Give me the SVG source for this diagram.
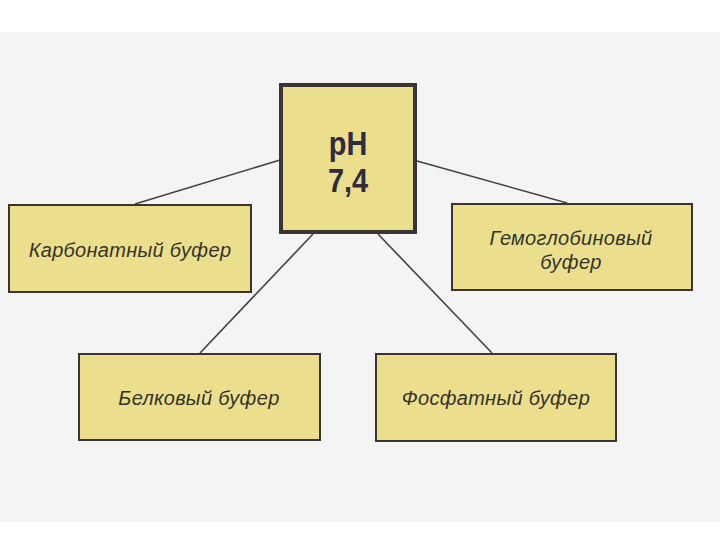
<svg xmlns="http://www.w3.org/2000/svg" width="720" height="540" viewBox="0 0 720 540">
<style>
.box{fill:#ebdf8e;stroke:#3a3530;stroke-width:2}
.main{fill:#ebdf8e;stroke:#3a3530;stroke-width:4}
.lbl{font-family:"Liberation Sans",Arial,sans-serif;font-style:italic;font-size:20px;letter-spacing:0.3px;fill:#35322a;text-anchor:middle}
.ph{font-family:"Liberation Sans",Arial,sans-serif;font-weight:bold;font-size:34px;fill:#2e2c3e;text-anchor:middle}
.con{stroke:#45413f;stroke-width:1.6;fill:none}
</style>
<rect x="0" y="0" width="720" height="540" fill="#ffffff"/>
<rect x="0" y="32" width="720" height="490" fill="#f4f4f4"/>
<g id="connectors">
<line class="con" x1="280" y1="160" x2="135" y2="204"/>
<line class="con" x1="417" y1="161" x2="567" y2="203"/>
<line class="con" x1="313" y1="234" x2="200" y2="353"/>
<line class="con" x1="378" y1="234" x2="492" y2="353"/>
</g>
<g id="ph">
<rect class="main" x="281" y="85" width="134" height="147"/>
<text class="ph" x="348" y="155" transform="translate(348 0) scale(0.85 1) translate(-348 0)">pH</text>
<text class="ph" x="348" y="192" transform="translate(348 0) scale(0.85 1) translate(-348 0)">7,4</text>
</g>
<g id="carbonate">
<rect class="box" x="9" y="205" width="242" height="87"/>
<text class="lbl" x="130" y="257">Карбонатный буфер</text>
</g>
<g id="hemoglobin">
<rect class="box" x="452" y="204" width="240" height="86"/>
<text class="lbl" x="571" y="245">Гемоглобиновый</text>
<text class="lbl" x="571" y="269">буфер</text>
</g>
<g id="protein">
<rect class="box" x="79" y="354" width="241" height="86"/>
<text class="lbl" x="199" y="405">Белковый буфер</text>
</g>
<g id="phosphate">
<rect class="box" x="376" y="354" width="240" height="87"/>
<text class="lbl" x="496" y="405">Фосфатный буфер</text>
</g>
</svg>
